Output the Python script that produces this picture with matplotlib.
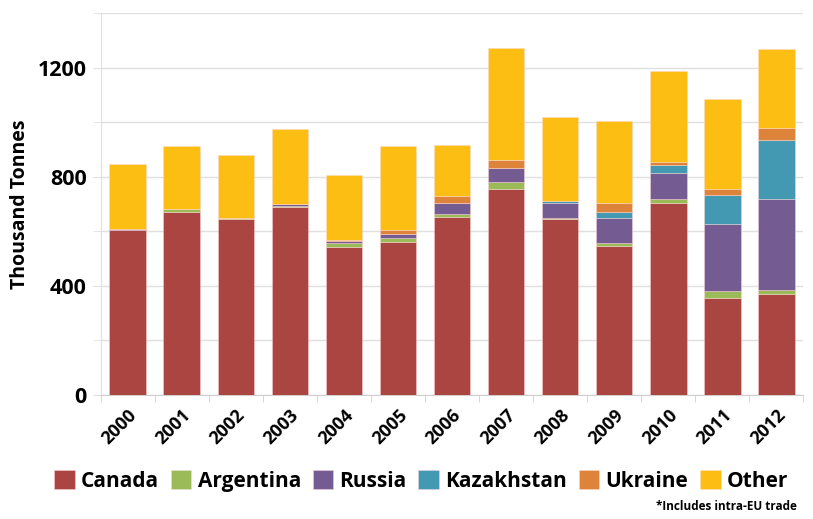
import matplotlib
matplotlib.use("Agg")
import matplotlib.pyplot as plt
import numpy as np

years = ["2000", "2001", "2002", "2003", "2004", "2005", "2006",
         "2007", "2008", "2009", "2010", "2011", "2012"]
canada = [605, 671, 646, 691, 544, 561, 654, 757, 645, 548, 703, 357, 371]
argentina = [2, 10, 2, 3, 13, 15, 9, 25, 3, 9, 16, 23, 14]
russia = [2, 2, 0, 7, 7, 14, 43, 50, 55, 91, 94, 246, 333]
kazakhstan = [0, 0, 0, 0, 0, 0, 0, 0, 8, 25, 31, 108, 218]
ukraine = [0, 0, 0, 0, 5, 15, 25, 29, 0, 30, 12, 22, 45]
other = [240, 232, 233, 276, 237, 309, 187, 411, 308, 304, 332, 329, 289]

series = [("Canada", canada, "#AA4542"),
          ("Argentina", argentina, "#9BBB59"),
          ("Russia", russia, "#745B92"),
          ("Kazakhstan", kazakhstan, "#4299B1"),
          ("Ukraine", ukraine, "#DD843A"),
          ("Other", other, "#FCBE13")]

plt.rcParams['font.family'] = ['Open Sans', 'DejaVu Sans']
plt.rcParams['font.weight'] = 'bold'

fig = plt.figure(figsize=(8.13, 5.19), dpi=100)
ax = fig.add_axes([0.124, 0.239, 0.864, 0.735])

x = np.arange(len(years))
bottom = np.zeros(len(years))
handles = []
for name, vals, col in series:
    v = np.array(vals, dtype=float)
    b = ax.bar(x, v, bottom=bottom, width=0.68, color=col, label=name,
               edgecolor=(1, 0.85, 0.85, 0.5), linewidth=0.6, zorder=3)
    handles.append(b)
    bottom += v

ax.set_xlim(-0.5, len(years) - 0.5)
ax.set_ylim(0, 1400)
ax.set_yticks([0, 400, 800, 1200])
ax.set_yticks([200, 600, 1000, 1400], minor=True)
ax.yaxis.grid(True, which='both', color='#E0E0E0', linewidth=1, zorder=0)
ax.tick_params(axis='y', which='both', length=6, color='#E0E0E0', labelsize=15.5, pad=4)
ax.tick_params(axis='y', which='minor', labelleft=False)
for lab in ax.get_yticklabels():
    lab.set_fontweight('bold')

ax.set_xticks(x)
ax.set_xticklabels(years, rotation=45, ha='right', va='top', rotation_mode='anchor',
                   fontsize=13, fontweight='bold')
ax.set_xticks(np.arange(-0.5, len(years), 1), minor=True)
ax.tick_params(axis='x', which='major', length=0, pad=8)
ax.tick_params(axis='x', which='minor', length=5, color='#D0D0D0')
for s in ['top', 'right']:
    ax.spines[s].set_visible(False)
ax.spines['left'].set_color('#E0E0E0')
ax.spines['bottom'].set_color('#D0D0D0')

ax.set_ylabel("Thousand Tonnes", fontsize=14, fontweight='bold', labelpad=6)

fig.legend(handles=handles, labels=[s[0] for s in series], loc='center',
           bbox_to_anchor=(0.518, 0.073), ncol=6, frameon=False,
           prop={'size': 15, 'weight': 'bold'}, handlelength=1.0, handleheight=1.0,
           handletextpad=0.3, columnspacing=0.55)

fig.text(0.98, 0.012, "*Includes intra-EU trade", ha='right', va='bottom',
         fontsize=8.5, fontweight='bold')

fig.savefig("out.png", dpi=100)
